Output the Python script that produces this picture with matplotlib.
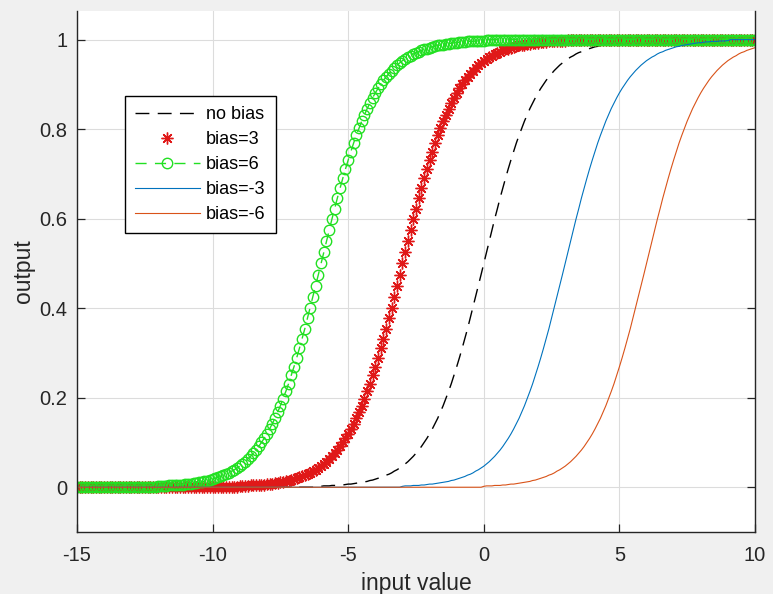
import numpy as np
import matplotlib
matplotlib.use('Agg')
import matplotlib.pyplot as plt

# input grid of the original plot (-15:0.1:10)
x_in = np.round(np.linspace(-15, 10, 251), 1)

# output of the "no bias" curve read at -6.0 ... 6.0 (step 0.1); beyond that it sits on 0 / 1
out_no_bias = [
    0.002, 0.003, 0.003, 0.003, 0.004, 0.004, 0.004, 0.005, 0.005, 0.006,
    0.007, 0.007, 0.008, 0.009, 0.010, 0.011, 0.012, 0.013, 0.015, 0.016,
    0.018, 0.020, 0.022, 0.024, 0.027, 0.029, 0.032, 0.036, 0.039, 0.043,
    0.047, 0.052, 0.057, 0.063, 0.069, 0.076, 0.083, 0.091, 0.100, 0.109,
    0.119, 0.130, 0.142, 0.154, 0.168, 0.182, 0.198, 0.214, 0.231, 0.250,
    0.269, 0.289, 0.310, 0.332, 0.354, 0.378, 0.401, 0.426, 0.450, 0.475,
    0.500,
    0.525, 0.550, 0.574, 0.599, 0.622, 0.646, 0.668, 0.690, 0.711,
    0.731, 0.750, 0.769, 0.786, 0.802, 0.818, 0.832, 0.846, 0.858, 0.870,
    0.881, 0.891, 0.900, 0.909, 0.917, 0.924, 0.931, 0.937, 0.943, 0.948,
    0.953, 0.957, 0.961, 0.964, 0.968, 0.971, 0.973, 0.976, 0.978, 0.980,
    0.982, 0.984, 0.985, 0.987, 0.988, 0.989, 0.990, 0.991, 0.992, 0.993,
    0.993, 0.994, 0.995, 0.995, 0.996, 0.996, 0.996, 0.997, 0.997, 0.997,
    0.998,
]

labels = ['no bias', 'bias=3', 'bias=6', 'bias=-3', 'bias=-6']
biases = [0, 3, 6, -3, -6]

x_ticks = [-15, -10, -5, 0, 5, 10]
y_ticks = [0, 0.2, 0.4, 0.6, 0.8, 1]
y_tick_labels = ['0', '0.2', '0.4', '0.6', '0.8', '1']


def curve(bias):
    # the readings moved so the middle of the curve sits at x = -bias
    y = np.zeros(len(x_in))
    first = int(round((-bias - 6 + 15) * 10))
    for k, v in enumerate(out_no_bias):
        if 0 <= first + k < len(y):
            y[first + k] = v
    y[first + len(out_no_bias):] = 1.0
    return y


plt.rcParams['font.family'] = ['Liberation Sans', 'DejaVu Sans']
plt.rcParams['axes.unicode_minus'] = False

fig = plt.figure(figsize=(7.73, 5.94), dpi=100, facecolor='#f0f0f0')
axes = fig.add_axes([0.0996, 0.1044, 0.8771, 0.8771])
axes.set_facecolor('white')

styles = [
    dict(color='black', linestyle='--', dashes=(10, 6), linewidth=1.0),
    dict(color='#e01818', linestyle='none', marker=(8, 2, 0), markersize=8.5, markeredgewidth=1.0),
    dict(color='#22e022', linestyle='--', dashes=(8, 6), linewidth=1.0, marker='o',
         markersize=7.5, markerfacecolor='none', markeredgewidth=1.0),
    dict(color='#0072bd', linewidth=0.8),
    dict(color='#d95319', linewidth=0.8),
]

for label, bias, st in zip(labels, biases, styles):
    axes.plot(x_in, curve(bias), label=label, **st)

axes.set_xlim(-15, 10)
axes.set_ylim(-0.1, 1.064)
axes.set_xticks(x_ticks)
axes.set_yticks(y_ticks)
axes.set_yticklabels(y_tick_labels)

axes.grid(True, color='#dcdcdc', linewidth=0.8)
axes.set_axisbelow(True)

for side in ['left', 'right', 'bottom']:
    axes.spines[side].set_color('#262626')
    axes.spines[side].set_linewidth(1.0)
axes.spines['top'].set_visible(False)

axes.tick_params(direction='in', length=6, width=0.9, colors='#262626',
                 labelsize=14.5, right=True, top=False, pad=7)
axes.tick_params(axis='x', pad=10)

axes.set_xlabel('input value', fontsize=16.5, color='#262626', labelpad=5)
axes.set_ylabel('output', fontsize=16.5, color='#262626', labelpad=3)

leg = axes.legend(loc='upper left', bbox_to_anchor=(0.0708, 0.837), borderaxespad=0,
                  fontsize=13, fancybox=False, framealpha=1, edgecolor='black',
                  handlelength=3.6, handletextpad=0.35, labelspacing=0.45, borderpad=0.55)
leg.get_frame().set_linewidth(1.0)

fig.savefig('out.png', dpi=100, facecolor=fig.get_facecolor())
